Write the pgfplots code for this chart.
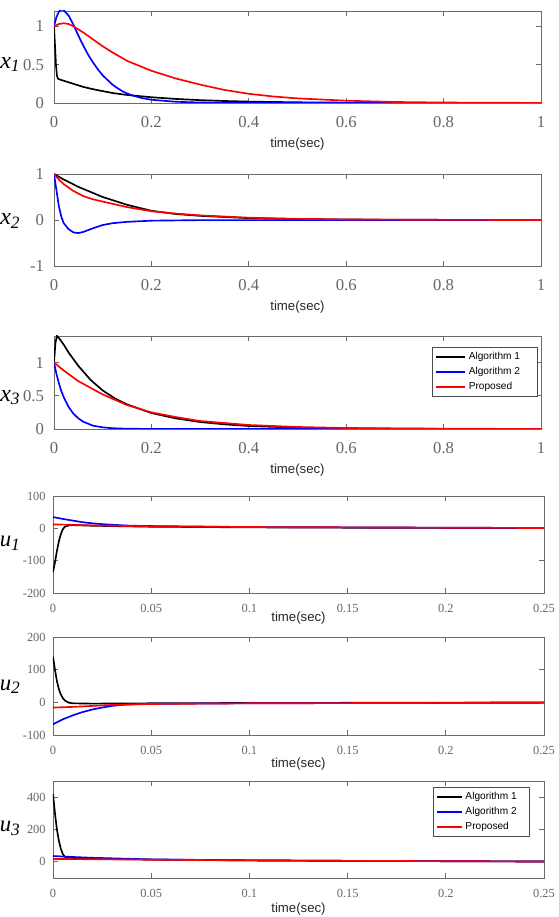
\documentclass[border=0pt]{standalone}
\usepackage{pgfplots}
\pgfplotsset{compat=1.18}
\usepackage{fontspec}
\setmainfont{Liberation Serif}
\newfontfamily\sansf{Liberation Sans}
\newfontfamily\serf{Liberation Serif}
\definecolor{axgray}{gray}{0.42}
\definecolor{tkgray}{gray}{0.40}
\newcommand{\ylab}[3]{{\fontsize{#3}{#3}\selectfont\serf\itshape #1\raisebox{-2.5pt}{\fontsize{13}{13}\selectfont #2}}}
\begin{document}
\begin{tikzpicture}
\useasboundingbox (0,0) rectangle (418.5pt,687.75pt);
\pgfplotsset{
  base/.style={
    scale only axis,
    axis line style={axgray, line width=0.6pt},
    tick style={axgray, line width=0.6pt},
    tick align=inside,
    major tick length=3.5pt,
    xtick pos=both, ytick pos=both,
    /pgf/number format/assume math mode=true,
    ticklabel style={text=tkgray},
    every axis plot/.append style={line width=1.25pt},
    xlabel={time(sec)},
    xlabel style={font=\sansf\fontsize{9.9}{10}\selectfont, text=black!85, at={(axis description cs:0.5,0)}, anchor=center},
    ylabel style={rotate=-90, anchor=base east, inner sep=0pt},
    legend image code/.code={\draw[#1, line width=1.5pt] (0pt,0pt) -- (22pt,0pt);},
  },
  top/.style={
    base, width=365.25pt, xmin=0, xmax=1,
    xtick={0,0.2,0.4,0.6,0.8,1},
    ticklabel style={font=\serf\fontsize{12.5}{13}\selectfont},
    xticklabel style={yshift=-6.3pt},
    yticklabel style={xshift=-4pt},
    xlabel style={yshift=-30.75pt},
  },
  bot/.style={
    base, width=368.25pt, xmin=0, xmax=0.25,
    xtick={0,0.05,0.1,0.15,0.2,0.25},
    /pgf/number format/fixed, /pgf/number format/precision=2,
    ticklabel style={font=\serf\fontsize{9.3}{9.5}\selectfont},
    xticklabel style={yshift=-5pt},
    yticklabel style={xshift=-2pt},
  },
  leg/.style={
    legend style={font=\sansf\fontsize{7.6}{8}\selectfont, draw=black!70, line width=0.4pt, fill=white,
      cells={anchor=west}, row sep=0pt, inner xsep=2pt, inner ysep=1.5pt,
      nodes={inner sep=2pt, text height=5.6pt, text depth=1.6pt}},
  },
}
% ---------- x1 ----------
\begin{axis}[top, at={(40.5pt,{(917-103)*0.75pt})}, anchor=south west, height=69pt,
  ymin=0, ymax=1.2, ytick={0,0.5,1},
  ylabel={\ylab{x}{1}{18}}, ylabel style={at={(axis description cs:-0.07,0.377)}}]
\addplot[black] coordinates {(0,1.0)(0.002,0.75)(0.004,0.5)(0.006,0.36)(0.008,0.32)(0.01,0.31)(0.02,0.29)(0.04,0.25)(0.06,0.21)(0.08,0.18)(0.1,0.155)(0.12,0.13)(0.15,0.105)(0.2,0.075)(0.25,0.053)(0.3,0.037)(0.35,0.026)(0.4,0.018)(0.5,0.009)(0.6,0.0045)(0.7,0.002)(0.8,0.001)(1,0)};
\addplot[blue] coordinates {(0,1.0)(0.005,1.12)(0.01,1.19)(0.015,1.22)(0.02,1.21)(0.03,1.14)(0.04,1.02)(0.05,0.88)(0.06,0.75)(0.07,0.63)(0.08,0.53)(0.09,0.44)(0.1,0.36)(0.11,0.30)(0.12,0.24)(0.13,0.195)(0.14,0.155)(0.15,0.125)(0.16,0.10)(0.18,0.065)(0.2,0.042)(0.25,0.016)(0.3,0.006)(0.4,0.001)(1,0)};
\addplot[red] coordinates {(0,1.0)(0.01,1.03)(0.02,1.04)(0.03,1.03)(0.04,1.0)(0.06,0.92)(0.08,0.83)(0.1,0.74)(0.12,0.66)(0.15,0.55)(0.2,0.42)(0.25,0.32)(0.3,0.24)(0.35,0.17)(0.4,0.12)(0.45,0.085)(0.5,0.06)(0.6,0.03)(0.7,0.013)(0.8,0.006)(1,0.001)};
\end{axis}
% ---------- x2 ----------
\begin{axis}[top, at={(40.5pt,{(917-266)*0.75pt})}, anchor=south west, height=69pt,
  ymin=-1, ymax=1, ytick={-1,0,1},
  ylabel={\ylab{x}{2}{18}}, ylabel style={at={(axis description cs:-0.07,0.446)}}]
\addplot[black] coordinates {(0,1)(0.02,0.88)(0.05,0.72)(0.1,0.5)(0.15,0.33)(0.2,0.2)(0.25,0.13)(0.3,0.09)(0.4,0.04)(0.5,0.02)(0.6,0.01)(0.8,0.003)(1,0)};
\addplot[blue] coordinates {(0,1)(0.005,0.65)(0.01,0.3)(0.015,0.07)(0.02,-0.07)(0.03,-0.2)(0.04,-0.27)(0.05,-0.285)(0.06,-0.26)(0.08,-0.18)(0.1,-0.11)(0.12,-0.07)(0.15,-0.04)(0.2,-0.015)(0.3,-0.003)(1,0)};
\addplot[red] coordinates {(0,1)(0.01,0.88)(0.02,0.78)(0.04,0.63)(0.06,0.52)(0.08,0.45)(0.1,0.40)(0.15,0.28)(0.2,0.19)(0.25,0.14)(0.3,0.10)(0.4,0.05)(0.5,0.025)(0.6,0.012)(0.8,0.003)(1,0)};
\end{axis}
% ---------- x3 ----------
\begin{axis}[top, leg, at={(40.5pt,{(917-429)*0.75pt})}, anchor=south west, height=69.75pt,
  ymin=0, ymax=1.4, ytick={0,0.5,1},
  ylabel={\ylab{x}{3}{18}}, ylabel style={at={(axis description cs:-0.07,0.294)}},
  legend style={at={(axis description cs:0.992,0.878)}, anchor=north east}]
\addplot[black] coordinates {(0,1.0)(0.003,1.3)(0.006,1.4)(0.01,1.37)(0.02,1.27)(0.03,1.15)(0.05,0.95)(0.075,0.74)(0.1,0.58)(0.125,0.46)(0.15,0.37)(0.2,0.24)(0.25,0.16)(0.3,0.105)(0.35,0.07)(0.4,0.045)(0.5,0.02)(0.6,0.008)(0.8,0.002)(1,0)};
\addlegendentry{\makebox[47pt][l]{Algorithm 1}}
\addplot[blue] coordinates {(0,1)(0.005,0.83)(0.01,0.69)(0.015,0.57)(0.02,0.48)(0.03,0.33)(0.04,0.23)(0.05,0.16)(0.06,0.11)(0.08,0.05)(0.1,0.025)(0.12,0.012)(0.15,0.004)(0.2,0.001)(1,0)};
\addlegendentry{Algorithm 2}
\addplot[red] coordinates {(0,1)(0.02,0.88)(0.05,0.72)(0.1,0.52)(0.15,0.36)(0.2,0.25)(0.25,0.18)(0.3,0.12)(0.4,0.06)(0.5,0.03)(0.6,0.015)(0.8,0.004)(1,0.001)};
\addlegendentry{Proposed}
\end{axis}
% ---------- u1 ----------
\begin{axis}[bot, at={(39.75pt,{(917-593)*0.75pt})}, anchor=south west, height=72.75pt,
  ymin=-200, ymax=100, ytick={-200,-100,0,100},
  ylabel={\ylab{u}{1}{17}}, ylabel style={at={(axis description cs:-0.067,0.477)}},
  xlabel style={yshift=-18.75pt}]
\addplot[black] coordinates {(0,-135)(0.001,-105)(0.002,-70)(0.003,-40)(0.004,-18)(0.005,-3)(0.006,5)(0.008,9)(0.01,10)(0.02,8)(0.05,5)(0.1,3)(0.15,2)(0.25,0.5)};
\addplot[blue] coordinates {(0,35)(0.005,29)(0.01,24)(0.015,19)(0.02,15.5)(0.025,13)(0.03,11)(0.04,8)(0.05,7)(0.1,4)(0.15,3)(0.25,1)};
\addplot[red] coordinates {(0,12)(0.01,11)(0.02,9)(0.05,6)(0.1,4)(0.15,3)(0.25,1)};
\end{axis}
% ---------- u2 ----------
\begin{axis}[bot, at={(39.75pt,{(917-735)*0.75pt})}, anchor=south west, height=73.5pt,
  ymin=-100, ymax=200, ytick={-100,0,100,200},
  ylabel={\ylab{u}{2}{17}}, ylabel style={at={(axis description cs:-0.067,0.459)}},
  xlabel style={yshift=-21.75pt}]
\addplot[black] coordinates {(0,140)(0.001,100)(0.002,65)(0.003,40)(0.004,24)(0.005,13)(0.006,6)(0.007,2)(0.008,-1)(0.01,-3)(0.02,-4)(0.05,-3)(0.1,-2)(0.25,-0.5)};
\addplot[blue] coordinates {(0,-67)(0.005,-52)(0.01,-40)(0.015,-30)(0.02,-22)(0.025,-16)(0.03,-11)(0.035,-8)(0.04,-6)(0.05,-4.5)(0.1,-3)(0.25,-1)};
\addplot[red] coordinates {(0,-16)(0.01,-14)(0.02,-11)(0.03,-8)(0.05,-5)(0.1,-3)(0.25,-1)};
\end{axis}
% ---------- u3 ----------
\begin{axis}[bot, leg, at={(39.75pt,{(917-878)*0.75pt})}, anchor=south west, height=72.75pt,
  ymin=-100, ymax=500, ytick={0,200,400},
  ylabel={\ylab{u}{3}{17}}, ylabel style={at={(axis description cs:-0.067,0.477)}},
  xlabel style={yshift=-23.25pt},
  legend image code/.code={\draw[#1, line width=1.5pt] (0pt,0pt) -- (18.5pt,0pt);},
  legend style={at={(axis description cs:0.971,0.938)}, anchor=north east}]
\addplot[black] coordinates {(0,420)(0.001,300)(0.002,200)(0.003,130)(0.004,80)(0.005,48)(0.006,32)(0.008,24)(0.01,22)(0.02,20)(0.05,14)(0.1,9)(0.15,6)(0.25,2)};
\addlegendentry{\makebox[44pt][l]{Algorithm 1}}
\addplot[blue] coordinates {(0,36)(0.01,30)(0.02,25)(0.05,15)(0.1,9)(0.15,6)(0.25,2)};
\addlegendentry{Algorithm 2}
\addplot[red] coordinates {(0,18)(0.01,17)(0.05,13)(0.1,9)(0.15,6)(0.25,2)};
\addlegendentry{Proposed}
\end{axis}
\end{tikzpicture}
\end{document}
